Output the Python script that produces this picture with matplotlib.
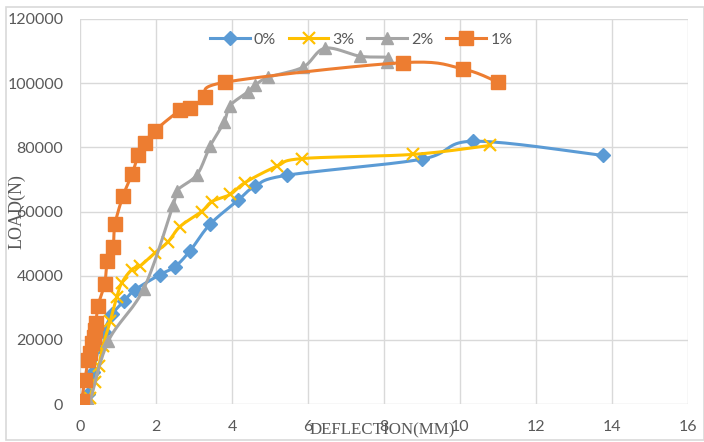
import numpy as np
import matplotlib
matplotlib.use("Agg")
import matplotlib.pyplot as plt
from matplotlib.lines import Line2D
from matplotlib.patches import Rectangle

# ---- data ----
series_names = ["0%", "3%", "2%", "1%"]

blue_x = [0.2, 0.35, 0.5, 0.62, 0.85, 1.15, 1.45, 2.1, 2.5, 2.9, 3.42, 4.16, 4.6, 5.44, 8.99, 10.35, 13.75]
blue_y = [3000, 10000, 18000, 22500, 28000, 32000, 35600, 40300, 42800, 47800, 56000, 63500, 67800, 71300, 76300, 81900, 77500]

yellow_x = [0.25, 0.4, 0.5, 0.6, 0.8, 0.97, 1.1, 1.36, 1.58, 1.97, 2.32, 2.63, 3.2, 3.47, 3.95, 4.34, 5.18, 5.85, 8.77, 10.79]
yellow_y = [2000, 7000, 12000, 18000, 26000, 33500, 37800, 41900, 43000, 47100, 50600, 55300, 60000, 63100, 65300, 69000, 74100, 76500, 77800, 80600]

gray_x = [0.25, 0.74, 1.68, 2.45, 2.55, 3.08, 3.42, 3.79, 3.95, 4.42, 4.6, 4.95, 5.87, 6.45, 7.37, 8.1, 8.08]
gray_y = [0, 19500, 36000, 62000, 66500, 71500, 80300, 87800, 93000, 97300, 99300, 101800, 105000, 110900, 108400, 108000, 106500]

orange_x = [0.04, 0.13, 0.21, 0.25, 0.31, 0.36, 0.39, 0.42, 0.47, 0.65, 0.72, 0.87, 0.92, 1.13, 1.37, 1.53, 1.71, 1.97, 2.63, 2.9, 3.29, 3.82, 8.5, 10.08, 11.0]
orange_y = [1000, 7500, 13800, 16000, 19000, 21000, 23100, 25300, 30500, 37500, 44700, 49000, 56000, 64800, 71600, 77600, 81500, 85200, 91500, 92300, 95600, 100300, 106400, 104400, 100300]

x_ticks = [0, 2, 4, 6, 8, 10, 12, 14, 16]
y_ticks = [0, 20000, 40000, 60000, 80000, 100000, 120000]

W, H = 704, 442
fig = plt.figure(figsize=(W / 100, H / 100), dpi=100)
fig.patch.set_facecolor("white")
ax = fig.add_axes([80 / W, 1 - 404 / H, (688 - 80) / W, (404 - 19) / H])
ax.set_xlim(0, 16)
ax.set_ylim(0, 120000)

grid_c = "#d9d9d9"
text_c = "#595959"
ax.set_xticks(x_ticks)
ax.set_yticks(y_ticks)
ax.grid(True, color=grid_c, linewidth=1.0)
ax.set_axisbelow(True)
for s in ax.spines.values():
    s.set_visible(False)
ax.tick_params(length=0, labelsize=11.5, colors=text_c)
ax.tick_params(axis="x", pad=11.5)
ax.tick_params(axis="y", pad=12)
for lab in ax.get_xticklabels() + ax.get_yticklabels():
    lab.set_fontfamily("Lato")

# outer chart border
fig.patches.append(Rectangle((6 / W, 2 / H), (W - 6) / W, (H - 9) / H, transform=fig.transFigure,
                             fill=False, edgecolor=grid_c, linewidth=1.2))


def smooth(xs, ys, n=20):
    # Catmull-Rom (Excel style smoothed line) computed in display space
    pts = ax.transData.transform(np.column_stack([xs, ys]))
    P = np.vstack([pts[0], pts, pts[-1]])
    out = [pts[0]]
    for i in range(1, len(P) - 2):
        p0, p1, p2, p3 = P[i - 1], P[i], P[i + 1], P[i + 2]
        c1 = p1 + (p2 - p0) / 6.0
        c2 = p2 - (p3 - p1) / 6.0
        t = np.linspace(0, 1, n)[1:, None]
        seg = ((1 - t) ** 3) * p1 + 3 * ((1 - t) ** 2) * t * c1 + 3 * (1 - t) * t ** 2 * c2 + t ** 3 * p2
        out.extend(seg)
    out = np.array(out)
    d = ax.transData.inverted().transform(out)
    return d[:, 0], d[:, 1]


styles = [
    (blue_x, blue_y, "#5B9BD5", "D", 7, 1.0),
    (yellow_x, yellow_y, "#FFC000", "x", 9, 1.6),
    (gray_x, gray_y, "#A5A5A5", "^", 9, 1.0),
    (orange_x, orange_y, "#ED7D31", "s", 10, 1.0),
]
handles = []
for k, (xs, ys, c, m, ms, mew) in enumerate(styles):
    sx, sy = smooth(xs, ys)
    ax.plot(sx, sy, color=c, linewidth=2.2, zorder=3 + k, solid_capstyle="round")
    ax.plot(xs, ys, linestyle="none", marker=m, markersize=ms, color=c,
            markeredgecolor=c, markeredgewidth=mew, zorder=3 + k)
    handles.append(Line2D([], [], color=c, linewidth=2.2, marker=m, markersize=ms,
                          markeredgecolor=c, markeredgewidth=mew))

leg = fig.legend(handles, series_names, loc="center", bbox_to_anchor=(361 / W, 1 - 40 / H),
                 ncol=4, frameon=False, handlelength=2.5, columnspacing=0.8, handletextpad=0.25,
                 prop={"family": "Lato", "size": 11.5})
for t in leg.get_texts():
    t.set_color(text_c)

fig.text(17 / W, 1 - 212 / H, "LOAD(N)", rotation=90, ha="center", va="center",
         fontsize=13, color=text_c, family="Liberation Serif")
fig.text(382 / W, 1 - 430 / H, "DEFLECTION(MM)", ha="center", va="center",
         fontsize=12.2, color=text_c, family="Liberation Serif")

fig.savefig("out.png", dpi=100, facecolor="white")
